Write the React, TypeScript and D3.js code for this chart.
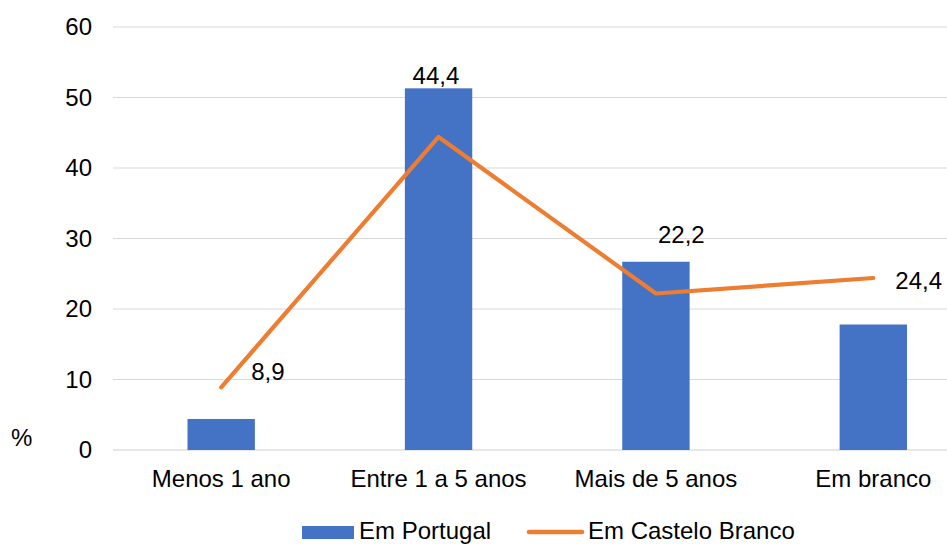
import React from "react";
import * as d3 from "d3";

const categories = ["Menos 1 ano", "Entre 1 a 5 anos", "Mais de 5 anos", "Em branco"];
const portugalValues = [4.4, 51.3, 26.7, 17.8];
const casteloBrancoValues = [8.9, 44.4, 22.2, 24.4];
const casteloBrancoLabels = ["8,9", "44,4", "22,2", "24,4"];
const yTicks = [0, 10, 20, 30, 40, 50, 60];
const seriesNames = ["Em Portugal", "Em Castelo Branco"];

// label offsets relative to line points (style, not data)
const labelOffsets: [number, number][] = [
  [30, -7],
  [-26, -53],
  [2, -50],
  [22, 11],
];

const W = 947;
const H = 544;
const FONT = "'Liberation Sans', Arial, sans-serif";
const BLUE = "#4472C4";
const ORANGE = "#ED7D31";

export default function App() {
  const x = d3.scalePoint<string>().domain(categories).range([112.5, 982]).padding(0.5);
  const y = d3.scaleLinear().domain([0, 60]).range([450, 27]);
  const barW = x.step() * 0.31;
  const line = d3
    .line<number>()
    .x((_, i) => x(categories[i]) as number)
    .y((d) => y(d));

  return (
    <svg
      width={W}
      height={H}
      style={{ position: "absolute", left: 0, top: 0, background: "#fff" }}
      fontFamily={FONT}
    >
      {yTicks.map((t) => (
        <g key={t}>
          <line x1={113} x2={W} y1={y(t)} y2={y(t)} stroke={t === 0 ? "#d0d0d0" : "#d9d9d9"} strokeWidth={1.2} />
          <text x={92} y={y(t) + 8} textAnchor="end" fontSize={24} fill="#000">
            {t}
          </text>
        </g>
      ))}
      <text x={11} y={446} fontSize={24} fill="#000">%</text>

      {categories.map((c, i) => (
        <rect
          key={c}
          x={(x(c) as number) - barW / 2}
          y={y(portugalValues[i])}
          width={barW}
          height={y(0) - y(portugalValues[i])}
          fill={BLUE}
        />
      ))}

      <path d={line(casteloBrancoValues) || ""} fill="none" stroke={ORANGE} strokeWidth={4.2} strokeLinecap="round" strokeLinejoin="round" />

      {casteloBrancoValues.map((v, i) => (
        <text
          key={i}
          x={(x(categories[i]) as number) + labelOffsets[i][0]}
          y={y(v) + labelOffsets[i][1]}
          fontSize={24}
          fill="#000"
        >
          {casteloBrancoLabels[i]}
        </text>
      ))}

      {categories.map((c) => (
        <text key={c} x={x(c) as number} y={487} textAnchor="middle" fontSize={24} fill="#000">
          {c}
        </text>
      ))}

      <rect x={302} y={526} width={52} height={13} fill={BLUE} />
      <text x={359} y={539} fontSize={24} fill="#000">{seriesNames[0]}</text>
      <line x1={529} x2={582} y1={532} y2={532} stroke={ORANGE} strokeWidth={4.5} strokeLinecap="round" />
      <text x={588} y={539} fontSize={24} fill="#000">{seriesNames[1]}</text>
    </svg>
  );
}
